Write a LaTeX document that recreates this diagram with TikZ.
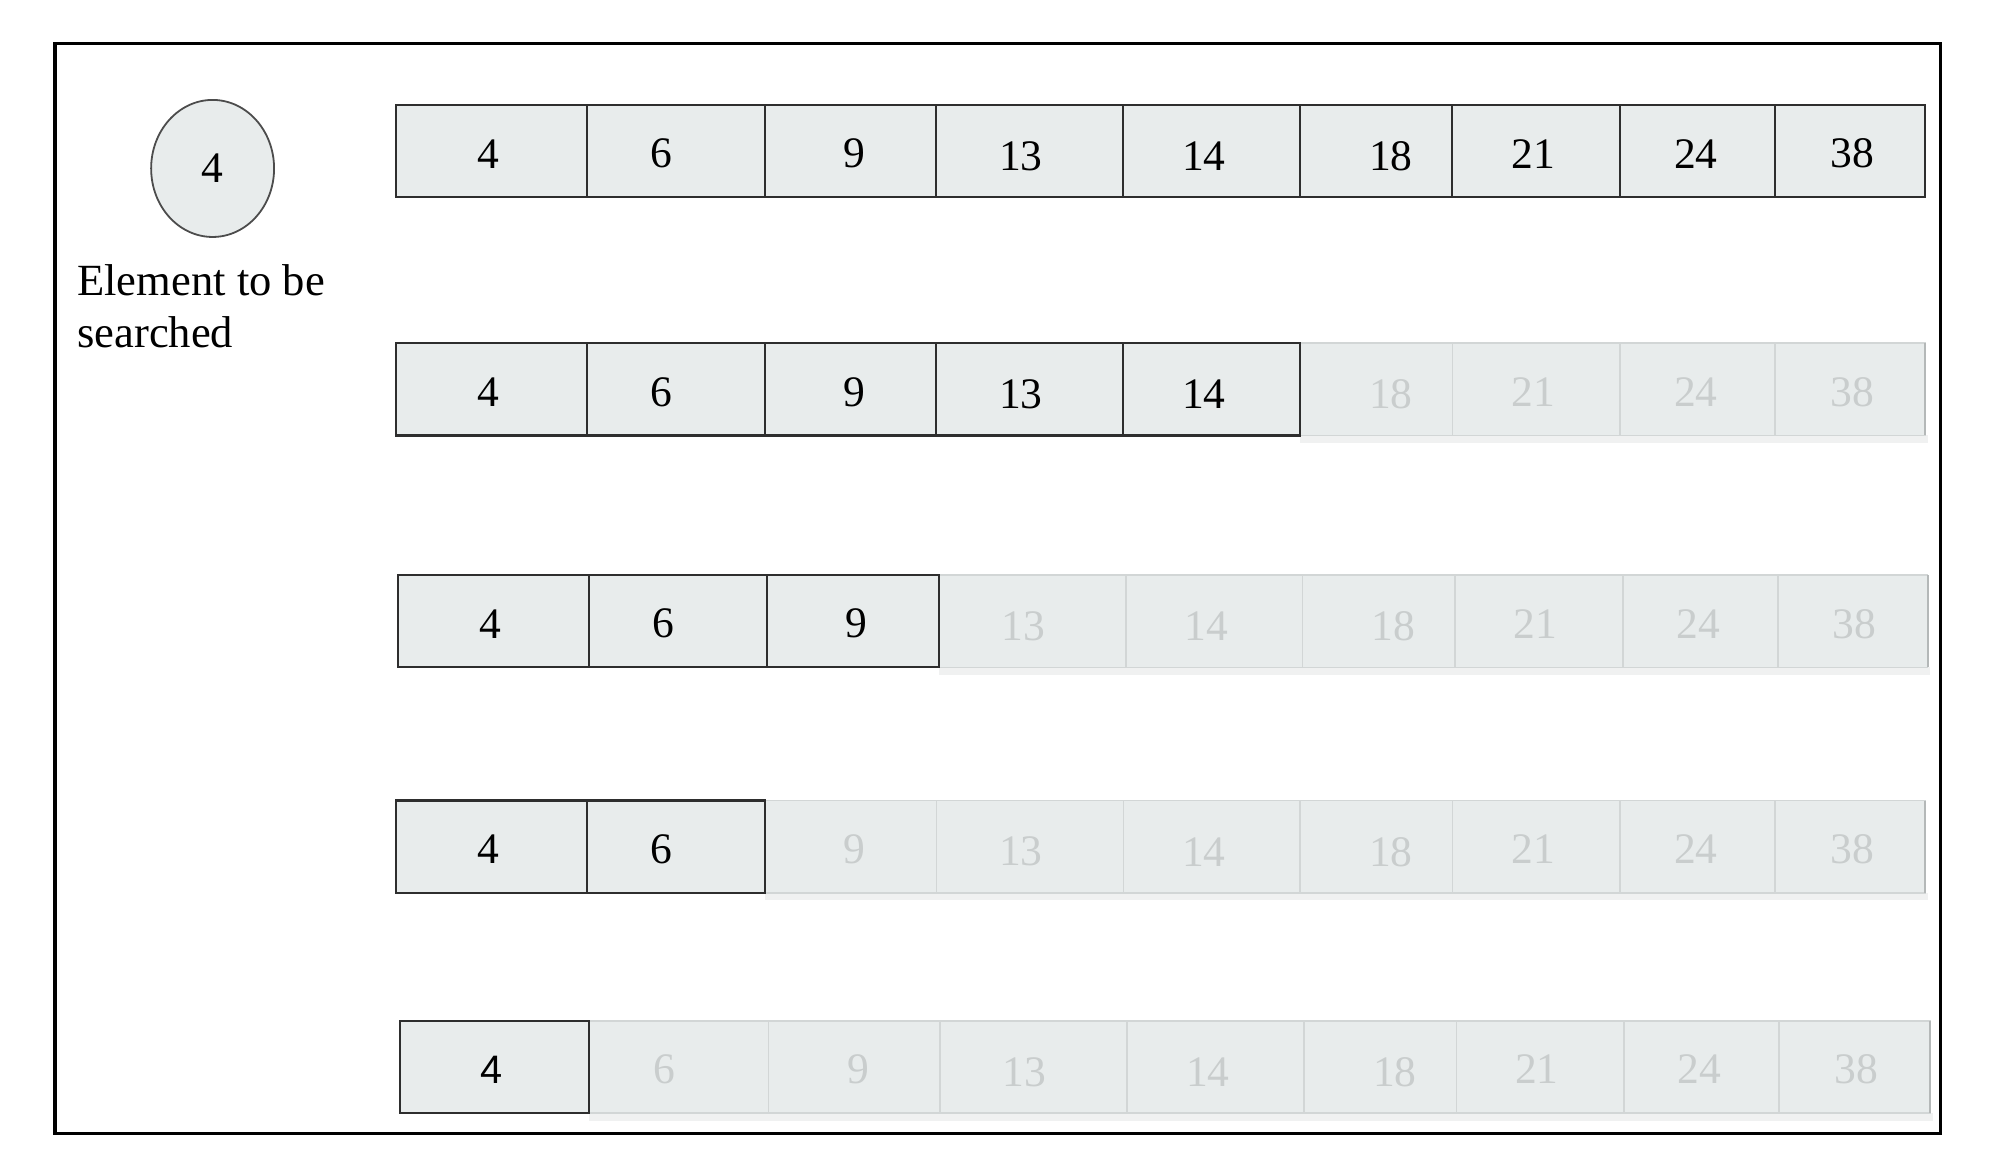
\documentclass[tikz,border=0pt]{standalone}
\usepackage{fontspec}
\setmainfont{Liberation Serif}
\newfontfamily\sansfont{Liberation Sans}
\usetikzlibrary{shapes.geometric,fit,calc}
\definecolor{cellfill}{HTML}{E8ECEC}
\definecolor{darkline}{HTML}{2E2E2E}
\definecolor{fadeline}{HTML}{D2D6D6}
\definecolor{fadeedge}{HTML}{B4B8B8}
\definecolor{fadetext}{HTML}{C9CDCD}
\definecolor{shadowc}{HTML}{F0F1F1}
\newcommand\mkcell[8]{%
  \coordinate (#1-a) at (#2,#4);
  \coordinate (#1-b) at (#3,#4+72);
  \ifnum#8=1
    \node[darkcell, fit=(#1-a)(#1-b)] (#1) {};
    \node[darktxt] (#1-t) at ($(#1.center)+(#6,#7)$) {#5};
  \else
    \node[fadedcell, fit=(#1-a)(#1-b)] (#1) {};
    \node[fadedtxt] (#1-t) at ($(#1.center)+(#6,#7)$) {#5};
  \fi}
\begin{document}
\begin{tikzpicture}[x=0.5pt,y=-0.5pt,
  darkcell/.style={draw=darkline, line width=0.8pt, fill=cellfill, inner sep=0pt, outer sep=0pt},
  fadedcell/.style={draw=fadeline, line width=0.6pt, fill=cellfill, inner sep=0pt, outer sep=0pt},
  darktxt/.style={font=\fontsize{17}{20}\selectfont, text=black, inner sep=0pt},
  fadedtxt/.style={font=\fontsize{17}{20}\selectfont, text=fadetext, inner sep=0pt},
  lbl/.style={font=\fontsize{17.4}{20}\selectfont, inner sep=0pt, anchor=base west}]
\useasboundingbox (0,0) rectangle (1567,917.4);
\fill[white] (0,0) rectangle (1567,917.4);
% outer frame
\draw[line width=1.3pt] (43,34) rectangle (1515,885);
% element to be searched
\node[ellipse, draw=black!70, line width=0.7pt, fill=cellfill, minimum width=48pt, minimum height=53.5pt, inner sep=0pt, font=\fontsize{17}{20}\selectfont] (target) at (166,131.5) {4};
\node[lbl] (lbl1) at (60,231) {Element to be};
\node[lbl] (lbl2) at (60,271) {searched};
% shadows below faded parts
\fill[shadowc] (1015,340) rectangle (1505,346);
\fill[shadowc] (733,521) rectangle (1507,527);
\fill[shadowc] (597,697) rectangle (1505,703);
\fill[shadowc] (460,869) rectangle (1509,875);
% rows of cells
\foreach \r/\top/\nd/\xs in {
  1/82/9/{309,458,597,731,877,1015,1134,1265,1386,1503},
  2/268/5/{309,458,597,731,877,1015,1134,1265,1386,1503},
  3/449/3/{311,460,599,733,879,1017,1136,1267,1388,1505},
  4/625/2/{309,458,597,731,877,1015,1134,1265,1386,1503},
  5/797/1/{312,460,600,734,880,1018,1137,1268,1389,1507}} {
  \foreach \pass in {0,1} {
    \foreach \i in {0,...,8} {
      \pgfmathtruncatemacro\isdark{\i<\nd ? 1 : 0}
      \ifnum\isdark=\pass
        \pgfmathsetmacro\xa{{\xs}[\i]}
        \pgfmathtruncatemacro\j{\i+1}
        \pgfmathsetmacro\xb{{\xs}[\j]}
        \pgfmathtruncatemacro\lab{{4,6,9,13,14,18,21,24,38}[\i]}
        \pgfmathsetmacro\dx{{-2.5,-11.5,3,-7,-6,11.5,-2.5,-1.5,1.5}[\i]}
        \pgfmathsetmacro\dy{{2,2,2,4,4,4,2,2,2}[\i]}
        \ifnum\r\i=50
          \def\lab{{\sansfont\fontsize{15.5}{18}\selectfont 4}}
        \fi
        \mkcell{c\r-\i}{\xa}{\xb}{\top}{\lab}{\dx}{\dy}{\pass}
      \fi
    }
  }
}
% slightly darker right edge of faded rows
\draw[fadeedge, line width=0.7pt] (c2-8.north east) -- (c2-8.south east);
\draw[fadeedge, line width=0.7pt] (c3-8.north east) -- (c3-8.south east);
\draw[fadeedge, line width=0.7pt] (c4-8.north east) -- (c4-8.south east);
\draw[fadeedge, line width=0.7pt] (c5-8.north east) -- (c5-8.south east);
\end{tikzpicture}
\end{document}
